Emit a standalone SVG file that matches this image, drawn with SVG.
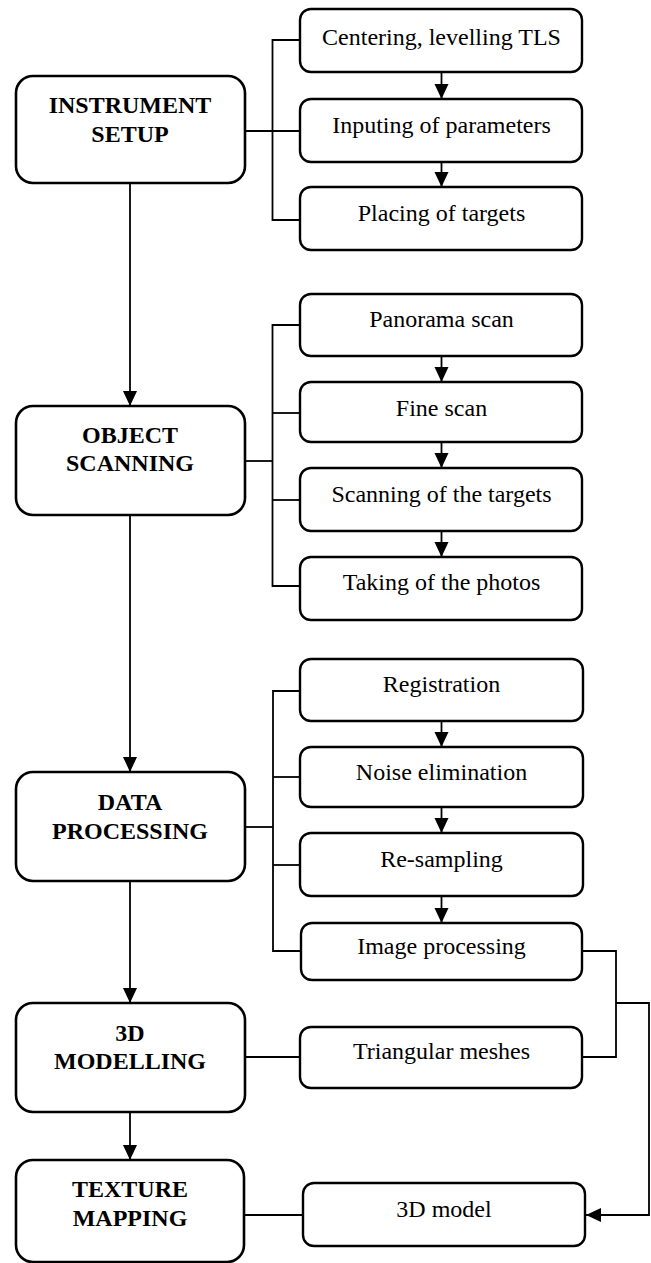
<svg xmlns="http://www.w3.org/2000/svg" width="651" height="1263" viewBox="0 0 651 1263">
  <style>
    .main { fill: #ffffff; stroke: #000000; stroke-width: 2.6; }
    .step { fill: #ffffff; stroke: #000000; stroke-width: 2.4; }
    .ttl { font-family: "Liberation Serif", "Times New Roman", serif; font-size: 24px; font-weight: bold; text-anchor: middle; fill: #000000; }
    .lbl { font-family: "Liberation Serif", "Times New Roman", serif; font-size: 24px; text-anchor: middle; fill: #000000; }
    .ln { fill: none; stroke: #000000; stroke-width: 1.8; }
  </style>
  <defs>
    <marker id="ah" markerUnits="userSpaceOnUse" markerWidth="16" markerHeight="16" viewBox="0 0 16 14" refX="15" refY="7" orient="auto">
      <path d="M0,0 L15,7 L0,14 z" fill="#000000"/>
    </marker>
  </defs>
  <rect width="651" height="1263" fill="#ffffff"/>

  <!-- connectors -->
  <g id="connectors">
    <!-- main flow -->
    <line class="ln" x1="130" y1="183" x2="130" y2="406" marker-end="url(#ah)"/>
    <line class="ln" x1="130" y1="515" x2="130" y2="772" marker-end="url(#ah)"/>
    <line class="ln" x1="130" y1="881" x2="130" y2="1003" marker-end="url(#ah)"/>
    <line class="ln" x1="130" y1="1112" x2="130" y2="1160" marker-end="url(#ah)"/>

    <!-- instrument setup bracket -->
    <path class="ln" d="M300,40 H272.5 V220 H300"/>
    <line class="ln" x1="245" y1="131" x2="300" y2="131"/>
    <line class="ln" x1="441.5" y1="72" x2="441.5" y2="99" marker-end="url(#ah)"/>
    <line class="ln" x1="441.5" y1="162" x2="441.5" y2="187" marker-end="url(#ah)"/>

    <!-- object scanning bracket -->
    <path class="ln" d="M300,325 H272.5 V586 H300"/>
    <line class="ln" x1="272.5" y1="413" x2="300" y2="413"/>
    <line class="ln" x1="272.5" y1="500" x2="300" y2="500"/>
    <line class="ln" x1="245" y1="461" x2="272.5" y2="461"/>
    <line class="ln" x1="441.5" y1="356" x2="441.5" y2="382" marker-end="url(#ah)"/>
    <line class="ln" x1="441.5" y1="442" x2="441.5" y2="468" marker-end="url(#ah)"/>
    <line class="ln" x1="441.5" y1="531" x2="441.5" y2="557" marker-end="url(#ah)"/>

    <!-- data processing bracket -->
    <path class="ln" d="M300,691 H273 V951 H300"/>
    <line class="ln" x1="273" y1="777" x2="300" y2="777"/>
    <line class="ln" x1="273" y1="865" x2="300" y2="865"/>
    <line class="ln" x1="245" y1="827" x2="273" y2="827"/>
    <line class="ln" x1="441.5" y1="721" x2="441.5" y2="747" marker-end="url(#ah)"/>
    <line class="ln" x1="441.5" y1="807" x2="441.5" y2="833" marker-end="url(#ah)"/>
    <line class="ln" x1="441.5" y1="896" x2="441.5" y2="923" marker-end="url(#ah)"/>

    <!-- modelling and texture links -->
    <line class="ln" x1="245" y1="1057" x2="300" y2="1057"/>
    <line class="ln" x1="244" y1="1215" x2="303" y2="1215"/>

    <!-- image processing + meshes merge into 3D model -->
    <path class="ln" d="M582,951 H616 V1057 H582"/>
    <path class="ln" d="M616,1003 H649 V1215 H586" marker-end="url(#ah)"/>
  </g>

  <!-- main stages -->
  <g id="instrument-setup">
    <rect class="main" x="16" y="76" width="229" height="107" rx="17"/>
    <text class="ttl" x="130" y="113">INSTRUMENT</text>
    <text class="ttl" x="130" y="142">SETUP</text>
  </g>
  <g id="object-scanning">
    <rect class="main" x="16" y="406" width="229" height="109" rx="17"/>
    <text class="ttl" x="130" y="443">OBJECT</text>
    <text class="ttl" x="130" y="471">SCANNING</text>
  </g>
  <g id="data-processing">
    <rect class="main" x="16" y="772" width="229" height="109" rx="17"/>
    <text class="ttl" x="130" y="810">DATA</text>
    <text class="ttl" x="130" y="839">PROCESSING</text>
  </g>
  <g id="modelling-3d">
    <rect class="main" x="16" y="1003" width="229" height="109" rx="17"/>
    <text class="ttl" x="130" y="1041">3D</text>
    <text class="ttl" x="130" y="1069">MODELLING</text>
  </g>
  <g id="texture-mapping">
    <rect class="main" x="16" y="1160" width="228" height="102" rx="17"/>
    <text class="ttl" x="130" y="1197">TEXTURE</text>
    <text class="ttl" x="130" y="1226">MAPPING</text>
  </g>

  <!-- sub-steps -->
  <g id="centering">
    <rect class="step" x="300" y="9" width="282" height="63" rx="11"/>
    <text class="lbl" x="441.5" y="45">Centering, levelling TLS</text>
  </g>
  <g id="inputing">
    <rect class="step" x="300" y="99" width="282" height="63" rx="11"/>
    <text class="lbl" x="441.5" y="133">Inputing of parameters</text>
  </g>
  <g id="placing">
    <rect class="step" x="300" y="187" width="282" height="63" rx="11"/>
    <text class="lbl" x="441.5" y="221">Placing of targets</text>
  </g>
  <g id="panorama">
    <rect class="step" x="300" y="294" width="282" height="62" rx="11"/>
    <text class="lbl" x="441.5" y="327">Panorama scan</text>
  </g>
  <g id="fine-scan">
    <rect class="step" x="300" y="382" width="282" height="60" rx="11"/>
    <text class="lbl" x="441.5" y="416">Fine scan</text>
  </g>
  <g id="scanning-targets">
    <rect class="step" x="300" y="468" width="282" height="63" rx="11"/>
    <text class="lbl" x="441.5" y="502">Scanning of the targets</text>
  </g>
  <g id="taking-photos">
    <rect class="step" x="300" y="557" width="282" height="63" rx="11"/>
    <text class="lbl" x="441.5" y="590">Taking of the photos</text>
  </g>
  <g id="registration">
    <rect class="step" x="300" y="659" width="283" height="62" rx="11"/>
    <text class="lbl" x="441.5" y="692">Registration</text>
  </g>
  <g id="noise-elimination">
    <rect class="step" x="300" y="747" width="283" height="60" rx="11"/>
    <text class="lbl" x="441.5" y="780">Noise elimination</text>
  </g>
  <g id="re-sampling">
    <rect class="step" x="300" y="833" width="283" height="63" rx="11"/>
    <text class="lbl" x="441.5" y="867">Re-sampling</text>
  </g>
  <g id="image-processing">
    <rect class="step" x="301" y="923" width="281" height="57" rx="11"/>
    <text class="lbl" x="441.5" y="954">Image processing</text>
  </g>
  <g id="triangular-meshes">
    <rect class="step" x="300" y="1027" width="282" height="61" rx="11"/>
    <text class="lbl" x="441.5" y="1059">Triangular meshes</text>
  </g>
  <g id="model-3d">
    <rect class="step" x="303" y="1183" width="282" height="63" rx="11"/>
    <text class="lbl" x="444" y="1217">3D model</text>
  </g>
</svg>
